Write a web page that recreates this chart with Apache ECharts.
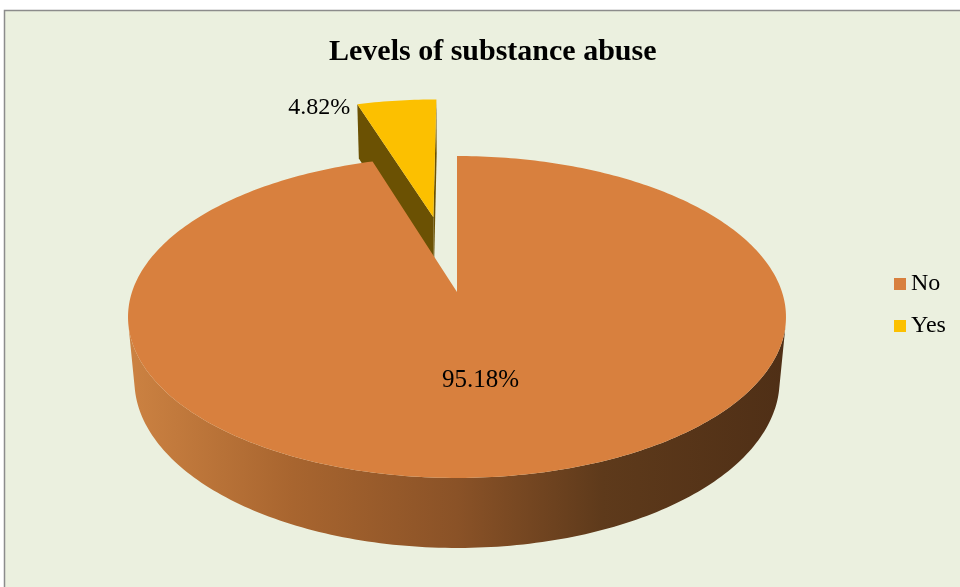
<!DOCTYPE html>
<html>
<head>
<meta charset="utf-8">
<script src="https://cdn.jsdelivr.net/npm/echarts@6/dist/echarts.min.js"></script>
<style>
html,body{margin:0;padding:0;background:#ffffff;}
#chart{width:960px;height:587px;}
</style>
</head>
<body>
<div id="chart"></div>
<script>
// ---- data ----
const chartTitle = 'Levels of substance abuse';
const categories = ['No', 'Yes'];
const values = [95.18, 4.82];

// ---- styling / layout (not data) ----
const sliceColors = ['#D8803E', '#FCC000'];
const cutColors = ['#7A4A22', '#6B5103'];
const explodeBy = { 'Yes': 0.52 };
const FONT = "'Liberation Serif', 'Times New Roman', serif";

// simple perspective camera for a cylinder-like 3D pie
const CAM = { cx: 457, cy: 292, F: 1833, D: 5.64, e: 28.9 * Math.PI / 180, h: 0.2253 };
const ce = Math.cos(CAM.e), se = Math.sin(CAM.e);
function proj(x, y, z) {
  const ry = y + CAM.D * ce, rz = z - CAM.D * se;
  const depth = ry * ce - rz * se;
  const up = ry * se + rz * ce;
  return [CAM.cx + CAM.F * x / depth, CAM.cy - CAM.F * up / depth];
}
const camPos = [0, -CAM.D * ce, CAM.D * se];

const total = values.reduce((a, b) => a + b, 0);
const slices = [];
let acc = 0;
values.forEach((v, i) => {
  const a0 = acc / total * Math.PI * 2;
  acc += v;
  const a1 = acc / total * Math.PI * 2;
  const am = (a0 + a1) / 2;
  const ex = explodeBy[categories[i]] || 0;
  slices.push({ i, a0, a1, am, ox: ex * Math.sin(am), oy: ex * Math.cos(am) });
});
// back-to-front order: slices farther away (larger y) drawn first
const order = slices.slice().sort((a, b) => (b.oy + Math.cos(b.am)) - (a.oy + Math.cos(a.am)));
const zOf = {};
order.forEach((s, k) => { zOf[s.i] = k + 1; });

const wallGrad = [
  new echarts.graphic.LinearGradient(128, 0, 787, 0, [
    { offset: 0, color: '#CC8242' },
    { offset: 0.25, color: '#A8652F' },
    { offset: 0.5, color: '#8A5227' },
    { offset: 0.72, color: '#5E3A1B' },
    { offset: 1, color: '#4F2F16' }
  ], true),
  new echarts.graphic.LinearGradient(128, 0, 787, 0, [
    { offset: 0, color: '#C99A00' },
    { offset: 1, color: '#5E4700' }
  ], true)
];

function buildSlice(s) {
  const children = [];
  const h = CAM.h;
  const N = Math.max(8, Math.ceil((s.a1 - s.a0) / (Math.PI / 180)));
  const pt = (t, r, z) => [s.ox + r * Math.sin(t), s.oy + r * Math.cos(t), z];
  // outer wall, visible runs only
  let run = [];
  const flush = () => {
    if (run.length > 1) {
      const top = run.map(t => { const p = pt(t, 1, 0); return proj(p[0], p[1], p[2]); });
      const bot = run.map(t => { const p = pt(t, 1, -h); return proj(p[0], p[1], p[2]); }).reverse();
      children.push({ type: 'polygon', shape: { points: top.concat(bot) },
        style: { fill: wallGrad[s.i], stroke: null } });
    }
    run = [];
  };
  for (let k = 0; k <= N; k++) {
    const t = s.a0 + (s.a1 - s.a0) * k / N;
    const p = pt(t, 1, 0);
    const vis = (camPos[0] - p[0]) * Math.sin(t) + (camPos[1] - p[1]) * Math.cos(t) > 0;
    if (vis) run.push(t); else flush();
  }
  flush();
  // radial cut faces
  const apex = [s.ox, s.oy];
  const faces = [
    { t: s.a0, n: [-Math.cos(s.a0), Math.sin(s.a0)] },
    { t: s.a1, n: [Math.cos(s.a1), -Math.sin(s.a1)] }
  ];
  if (s.a1 - s.a0 < Math.PI * 2 - 1e-6) {
    faces.forEach(f => {
      const vis = (camPos[0] - apex[0]) * f.n[0] + (camPos[1] - apex[1]) * f.n[1] > 0;
      if (!vis) return;
      const o = pt(f.t, 1, 0);
      const pts = [proj(apex[0], apex[1], 0), proj(o[0], o[1], 0), proj(o[0], o[1], -h), proj(apex[0], apex[1], -h)];
      children.push({ type: 'polygon', shape: { points: pts }, style: { fill: cutColors[s.i] } });
    });
  }
  // top face
  const topPts = [proj(apex[0], apex[1], 0)];
  for (let k = 0; k <= N; k++) {
    const t = s.a0 + (s.a1 - s.a0) * k / N;
    const p = pt(t, 1, 0);
    topPts.push(proj(p[0], p[1], 0));
  }
  children.push({ type: 'polygon', shape: { points: topPts }, style: { fill: sliceColors[s.i] } });
  // label
  const txt = values[s.i].toFixed(2) + '%';
  if (s.a1 - s.a0 > Math.PI / 4) {
    const lp = pt(s.am, 0.5, 0);
    const q = proj(lp[0], lp[1], 0);
    children.push({ type: 'text', style: { text: txt, x: q[0] - 3, y: q[1] + 4, align: 'center', verticalAlign: 'middle',
      font: '25px ' + FONT, fill: '#000' } });
  } else {
    const lp = pt(s.a0, 1, 0);
    const q = proj(lp[0], lp[1], 0);
    children.push({ type: 'text', style: { text: txt, x: q[0] - 7, y: q[1] + 4, align: 'right', verticalAlign: 'middle',
      font: '24px ' + FONT, fill: '#000' } });
  }
  return { type: 'group', children };
}

const series = categories.map((name, i) => ({
  type: 'custom',
  name: name,
  coordinateSystem: 'none',
  z: zOf[i],
  itemStyle: { color: sliceColors[i] },
  data: [[values[i]]],
  renderItem: function () { return buildSlice(slices[i]); }
}));

const chart = echarts.init(document.getElementById('chart'), null, { renderer: 'canvas' });
chart.setOption({
  animation: false,
  backgroundColor: '#ffffff',
  title: {
    text: chartTitle,
    left: 324, top: 32,
    textStyle: { fontFamily: FONT, fontWeight: 'bold', fontSize: 30, color: '#000' }
  },
  legend: {
    data: categories,
    orient: 'vertical',
    left: 894, top: 272,
    padding: 0,
    icon: 'rect',
    itemWidth: 12, itemHeight: 12,
    itemGap: 18,
    textStyle: { fontFamily: FONT, fontSize: 24, color: '#000', lineHeight: 24, padding: [0, 0, 0, 0] }
  },
  graphic: [{
    type: 'rect', z: -100, silent: true,
    shape: { x: 4.5, y: 10.5, width: 1000, height: 600 },
    style: { fill: '#EBF0DF', stroke: '#8C8C8C', lineWidth: 1.5 }
  }],
  series: series
});
</script>
</body>
</html>
